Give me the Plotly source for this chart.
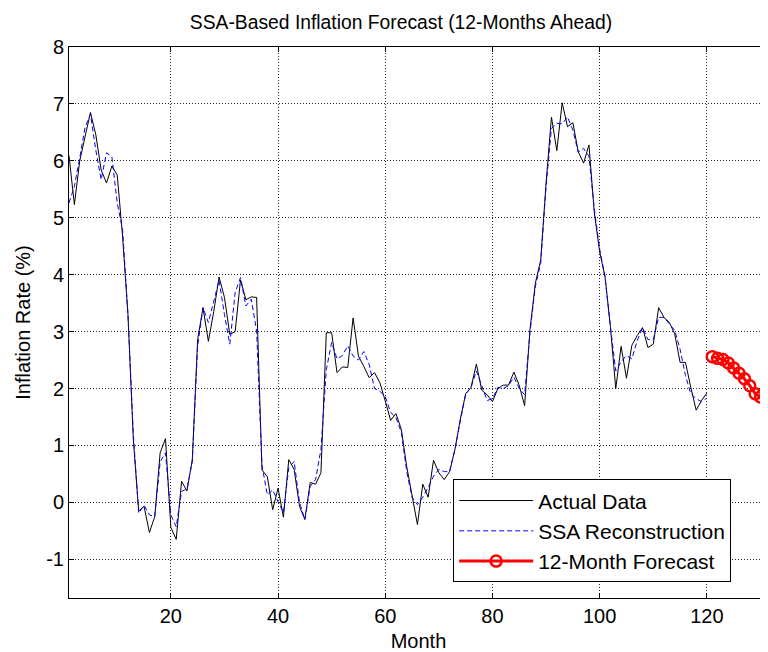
import plotly.graph_objects as go

months_actual = list(range(1, 121))
actual = [6.09, 5.23, 6.0, 6.42, 6.85, 6.46, 5.84, 5.61, 5.91, 5.75,
          4.67, 3.3, 1.1, -0.15, -0.07, -0.53, -0.25, 0.87, 1.12, -0.44,
          -0.65, 0.37, 0.2, 0.75, 2.86, 3.42, 2.83, 3.35, 3.96, 3.6,
          2.95, 3.0, 3.91, 3.56, 3.61, 3.6, 0.57, 0.45, -0.13, 0.25,
          -0.26, 0.75, 0.58, -0.07, -0.3, 0.35, 0.32, 0.52, 2.98, 2.98,
          2.28, 2.38, 2.37, 3.24, 2.57, 2.39, 2.19, 2.28, 2.1, 1.78,
          1.44, 1.56, 1.28, 0.63, 0.11, -0.39, 0.32, 0.09, 0.74, 0.52,
          0.4, 0.54, 0.93, 1.46, 1.91, 2.02, 2.43, 1.97, 1.89, 1.77,
          2.0, 2.06, 2.06, 2.29, 2.05, 1.7, 3.04, 3.85, 4.26, 5.61,
          6.77, 6.18, 7.02, 6.6, 6.67, 6.16, 5.96, 6.28, 5.09, 4.4,
          3.96, 3.09, 2.0, 2.74, 2.18, 2.76, 2.93, 3.07, 2.72, 2.78,
          3.42, 3.25, 3.16, 2.96, 2.46, 2.46, 2.02, 1.62, 1.79, 1.92]
ssa = [5.26, 5.55, 6.05, 6.59, 6.82, 6.19, 5.67, 6.14, 6.07, 5.26,
       4.79, 3.3, 1.2, -0.19, -0.05, -0.22, -0.25, 0.71, 0.87, -0.22,
       -0.43, 0.19, 0.24, 0.71, 2.75, 3.42, 3.16, 3.51, 3.9, 3.3,
       2.78, 3.69, 3.95, 3.45, 3.57, 3.01, 0.65, 0.13, 0.22, 0.01,
       -0.18, 0.61, 0.72, 0.0, -0.3, 0.28, 0.4, 0.93, 2.33, 2.81,
       2.52, 2.58, 2.75, 2.57, 2.5, 2.65, 2.42, 2.0, 1.95, 1.86,
       1.58, 1.49, 1.23, 0.54, 0.09, -0.04, 0.09, 0.26, 0.46, 0.58,
       0.54, 0.54, 0.93, 1.43, 1.9, 2.02, 2.31, 2.05, 1.79, 1.82,
       2.02, 2.0, 2.05, 2.2, 2.0, 1.89, 2.99, 3.8, 4.2, 5.55,
       6.57, 6.66, 6.65, 6.77, 6.54, 6.15, 6.22, 6.08, 5.15, 4.45,
       3.96, 3.09, 2.31, 2.47, 2.58, 2.52, 2.84, 3.07, 2.86, 2.86,
       3.25, 3.25, 3.13, 3.02, 2.69, 2.23, 1.91, 1.82, 1.77, 1.83]
months_forecast = list(range(121, 133))
forecast = [2.56, 2.53, 2.51, 2.45, 2.36, 2.27, 2.17, 2.05, 1.91, 1.85, 1.85, 1.85]

x_ticks = [20, 40, 60, 80, 100, 120]
y_ticks = [-1, 0, 1, 2, 3, 4, 5, 6, 7, 8]
y_tick_labels = ["-1", "0", "1", "2", "3", "4", "5", "6", "7", "8"]

FONT = "Liberation Sans, Arial, sans-serif"

fig = go.Figure()
fig.add_trace(go.Scatter(x=months_actual, y=actual, mode="lines", name="Actual Data",
                         line=dict(color="black", width=1)))
fig.add_trace(go.Scatter(x=months_actual, y=ssa, mode="lines", name="SSA Reconstruction",
                         line=dict(color="blue", width=1, dash="5px,3px")))
fig.add_trace(go.Scatter(x=months_forecast, y=forecast, mode="lines+markers", name="12-Month Forecast",
                         line=dict(color="red", width=3),
                         marker=dict(symbol="circle-open", size=11, color="red",
                                     line=dict(color="red", width=2.5))))

axis_common = dict(
    showline=True, linecolor="black", linewidth=1,
    ticks="inside", ticklen=5, tickcolor="black",
    showgrid=True, gridcolor="#222", gridwidth=1, griddash="1px,2px",
    zeroline=False, automargin=False,
    tickfont=dict(family=FONT, size=20, color="black"),
)

fig.update_xaxes(range=[1, 131.4], tickvals=x_ticks, mirror="ticks",
                 title=dict(text="Month", font=dict(family=FONT, size=20, color="black"), standoff=10),
                 **axis_common)
fig.update_yaxes(range=[-1.68, 8], tickvals=y_ticks, ticktext=y_tick_labels, mirror=False,
                 title=dict(text="Inflation Rate (%)", font=dict(family=FONT, size=20, color="black"), standoff=10),
                 **axis_common)

fig.update_layout(
    width=760, height=644,
    paper_bgcolor="white", plot_bgcolor="white",
    margin=dict(l=61, r=0, t=39, b=54),
    title=dict(text="SSA-Based Inflation Forecast (12-Months Ahead)",
               font=dict(family=FONT, size=19.3, color="black"),
               x=393 / 760, xanchor="center", xref="container",
               y=1 - 14 / 644, yanchor="middle", yref="container"),
    legend=dict(x=0.5496, y=0.2153, xanchor="left", yanchor="top",
                bgcolor="white", bordercolor="black", borderwidth=1,
                font=dict(family=FONT, size=21, color="black"),
                itemwidth=74, tracegroupgap=0),
    showlegend=True,
)

fig.write_html("out.html")
